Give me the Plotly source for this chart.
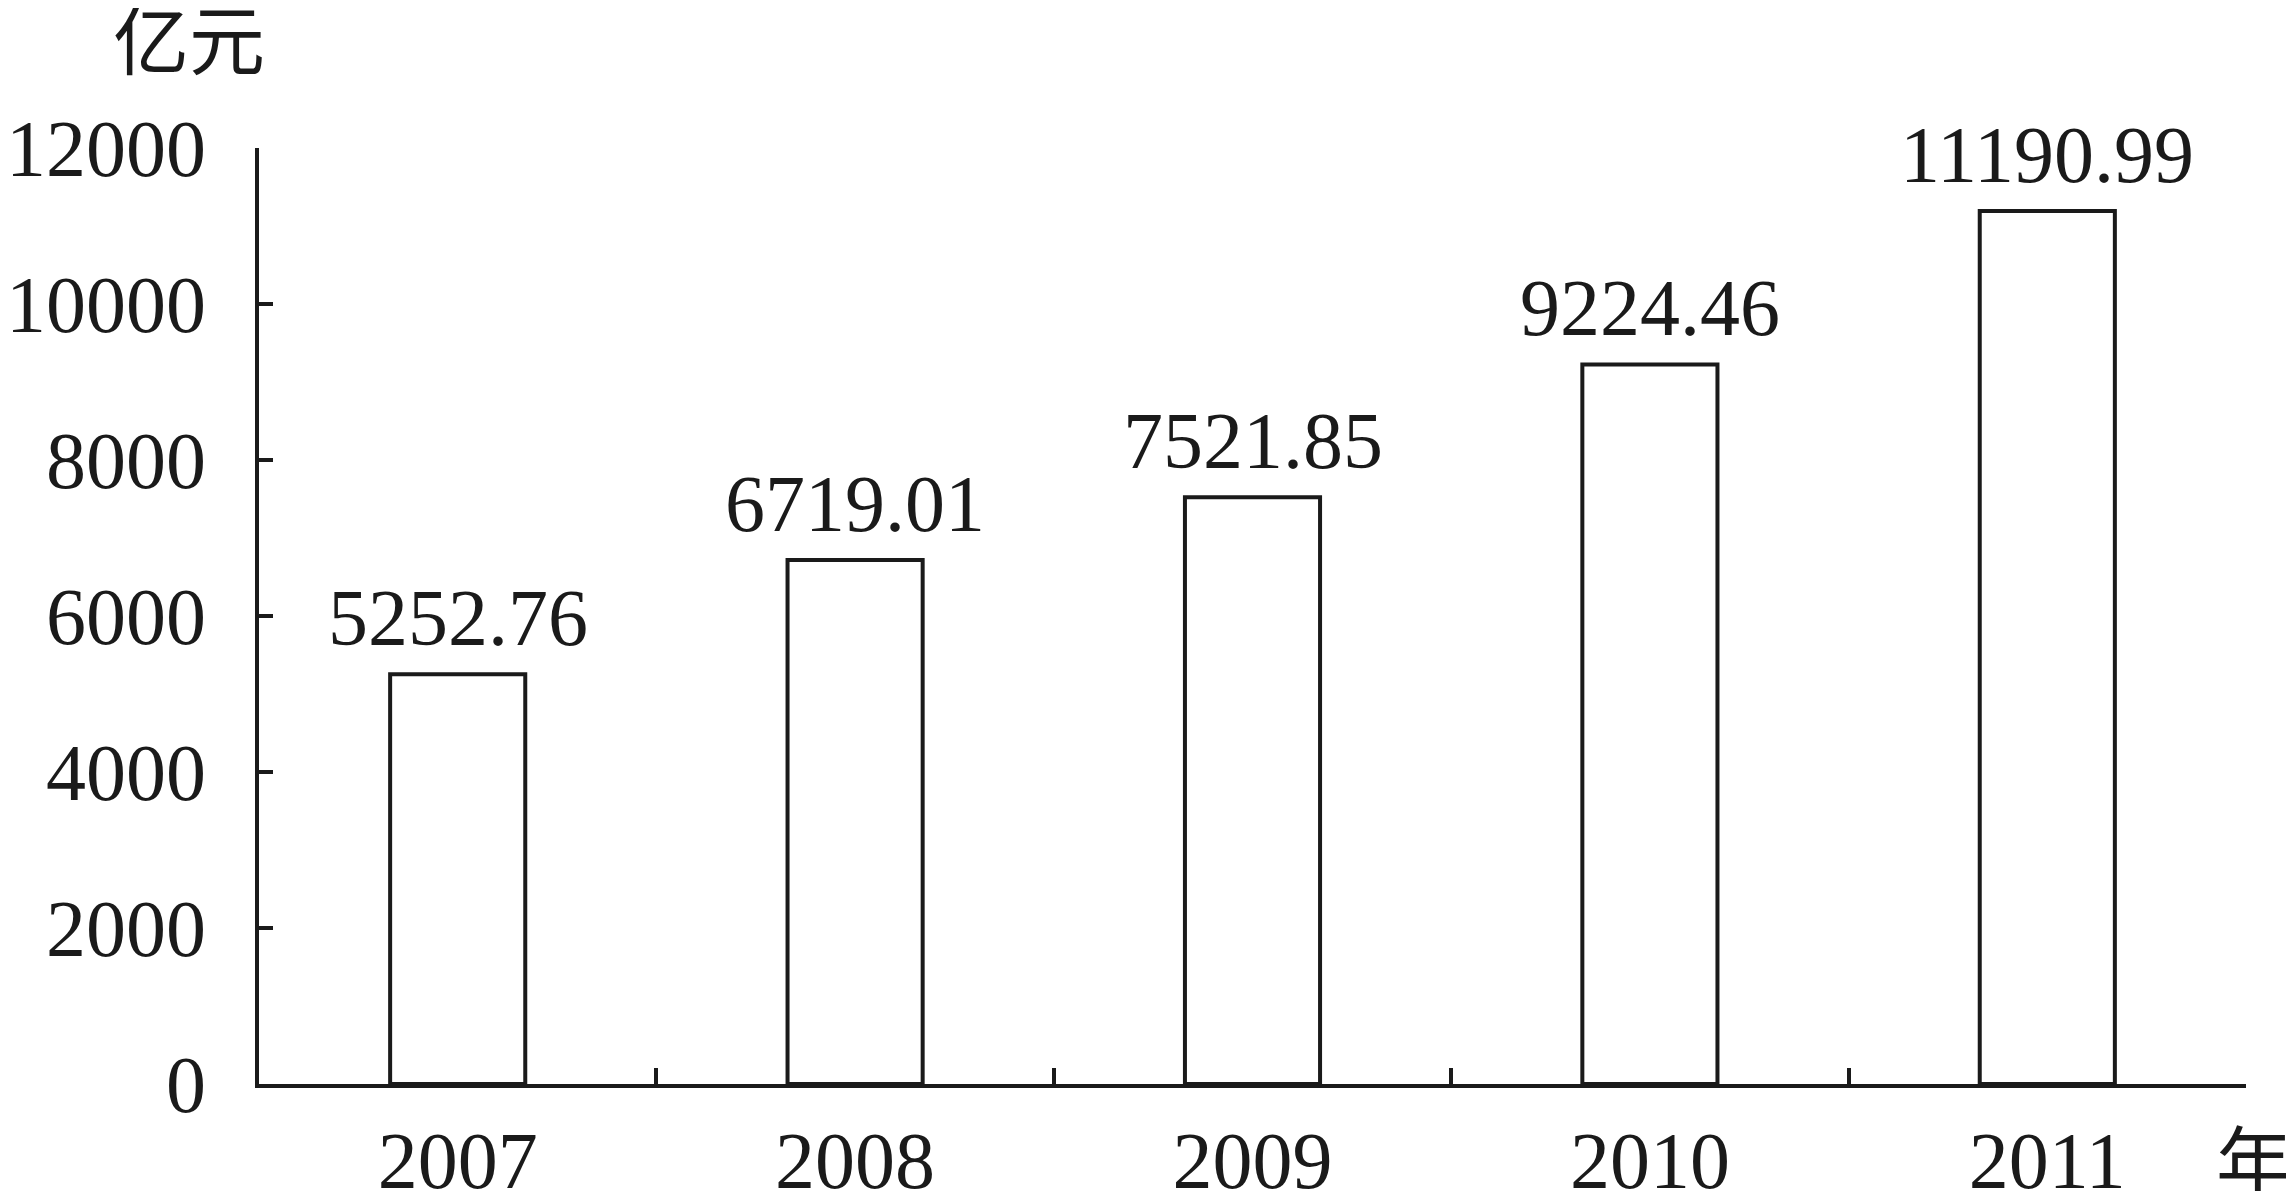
import plotly.graph_objects as go

years = ["2007", "2008", "2009", "2010", "2011"]
values = [5252.76, 6719.01, 7521.85, 9224.46, 11190.99]
value_labels = ["5252.76", "6719.01", "7521.85", "9224.46", "11190.99"]
y_ticks = [0, 2000, 4000, 6000, 8000, 10000, 12000]

INK = "#1a1a1a"
SERIF = "Liberation Serif, Times New Roman, serif"
CJK = "Noto Sans CJK SC, sans-serif"
FS = 80

fig = go.Figure(
    go.Bar(
        x=years,
        y=values,
        cliponaxis=False,
        marker=dict(color="white", line=dict(color=INK, width=4)),
        width=0.34,
        hoverinfo="skip",
    )
)

# value labels above bars (category index used as x on the category axis)
label_annotations = [
    dict(x=i, y=v, xref="x", yref="y", text=t, showarrow=False,
         xanchor="center", yanchor="bottom", yshift=10,
         font=dict(family=SERIF, size=FS, color=INK))
    for i, (v, t) in enumerate(zip(values, value_labels))
]

fig.update_layout(
    width=2286,
    height=1183,
    margin=dict(l=251, r=48, t=140, b=107, autoexpand=False),
    paper_bgcolor="white",
    plot_bgcolor="white",
    showlegend=False,
    font=dict(family=SERIF, size=FS, color=INK),
    xaxis=dict(
        type="category",
        range=[-0.5, len(years) - 0.5],
        automargin=False,
        showline=True,
        linecolor=INK,
        linewidth=4,
        ticks="inside",
        tickson="boundaries",
        ticklen=16,
        tickwidth=4,
        tickcolor=INK,
        showgrid=False,
        zeroline=False,
        tickangle=0,
        tickfont=dict(family=SERIF, size=FS, color=INK),
        ticklabelstandoff=4,
    ),
    yaxis=dict(
        automargin=False,
        range=[0, 12000],
        tickvals=y_ticks,
        ticktext=[str(v) for v in y_ticks],
        showline=True,
        linecolor=INK,
        linewidth=4,
        ticks="inside",
        ticklen=14,
        tickwidth=4,
        tickcolor=INK,
        showgrid=False,
        zeroline=False,
        tickfont=dict(family=SERIF, size=FS, color=INK),
        ticklabelstandoff=33,
    ),
    annotations=label_annotations + [
        dict(text="亿元", xref="paper", yref="paper", x=-0.035, y=1.12,
             xanchor="center", yanchor="middle", showarrow=False,
             font=dict(family=CJK, size=76, color=INK)),
        dict(text="年", xref="paper", yref="paper", x=1.024, y=-0.078,
             xanchor="right", yanchor="middle", showarrow=False,
             font=dict(family=CJK, size=76, color=INK)),
    ],
)

fig.write_html("out.html")
